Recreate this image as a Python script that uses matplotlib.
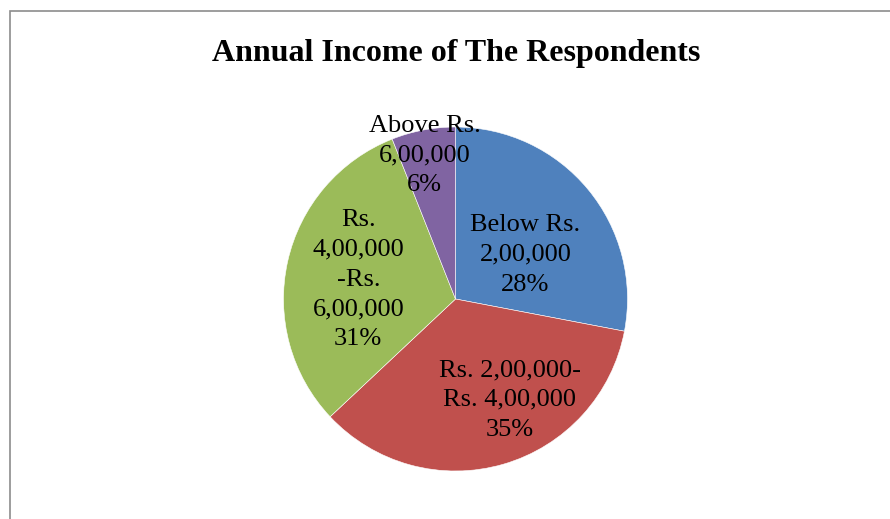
import numpy as np
import matplotlib.pyplot as plt
from matplotlib.patches import Rectangle

# datos del gráfico
categorias = ['Below Rs. 2,00,000', 'Rs. 2,00,000-Rs. 4,00,000',
              'Rs. 4,00,000-Rs. 6,00,000', 'Above Rs. 6,00,000']
porcentajes = [28, 35, 31, 6]
etiquetas = ['Below Rs.\n2,00,000', 'Rs. 2,00,000-\nRs. 4,00,000',
             'Rs.\n4,00,000\n-Rs.\n6,00,000', 'Above Rs.\n6,00,000']
colores = ['#4F81BD', '#C0504D', '#9BBB59', '#8064A2']

# posicion de cada etiqueta (angulo en grados, distancia relativa al radio)
pos_etiquetas = [(34, 0.49), (-61, 0.65), (167, 0.58), (102, 0.87)]

W, H = 890, 519
fig = plt.figure(figsize=(W / 100, H / 100), dpi=100)
ax = fig.add_axes([0, 0, 1, 1])

# borde del area del grafico (recortado a la derecha y abajo)
ax.add_patch(Rectangle((9.5, -20), W + 40, H - 10.5 + 20, fill=False,
                       edgecolor='#8c8c8c', linewidth=1.2))

cx, cy, r = 455.5, H - 299, 172
ax.pie(porcentajes, colors=colores, startangle=90, counterclock=False,
       center=(cx, cy), radius=r, frame=True,
       wedgeprops=dict(edgecolor='white', linewidth=0.4))
ax.set_xlim(0, W)
ax.set_ylim(0, H)
ax.axis('off')

for txt, pct, (ang, d) in zip(etiquetas, porcentajes, pos_etiquetas):
    x = cx + r * d * np.cos(np.radians(ang))
    y = cy + r * d * np.sin(np.radians(ang)) - 3
    ax.text(x, y, f"{txt}\n{pct}%", ha='center', va='center',
            fontsize=19, family='Liberation Serif', color='black',
            linespacing=1.46)

ax.text(456, H - 54, 'Annual Income of The Respondents', ha='center',
        va='center', fontsize=23, fontweight='bold',
        family='Liberation Serif')

fig.savefig('out.png', dpi=100)
